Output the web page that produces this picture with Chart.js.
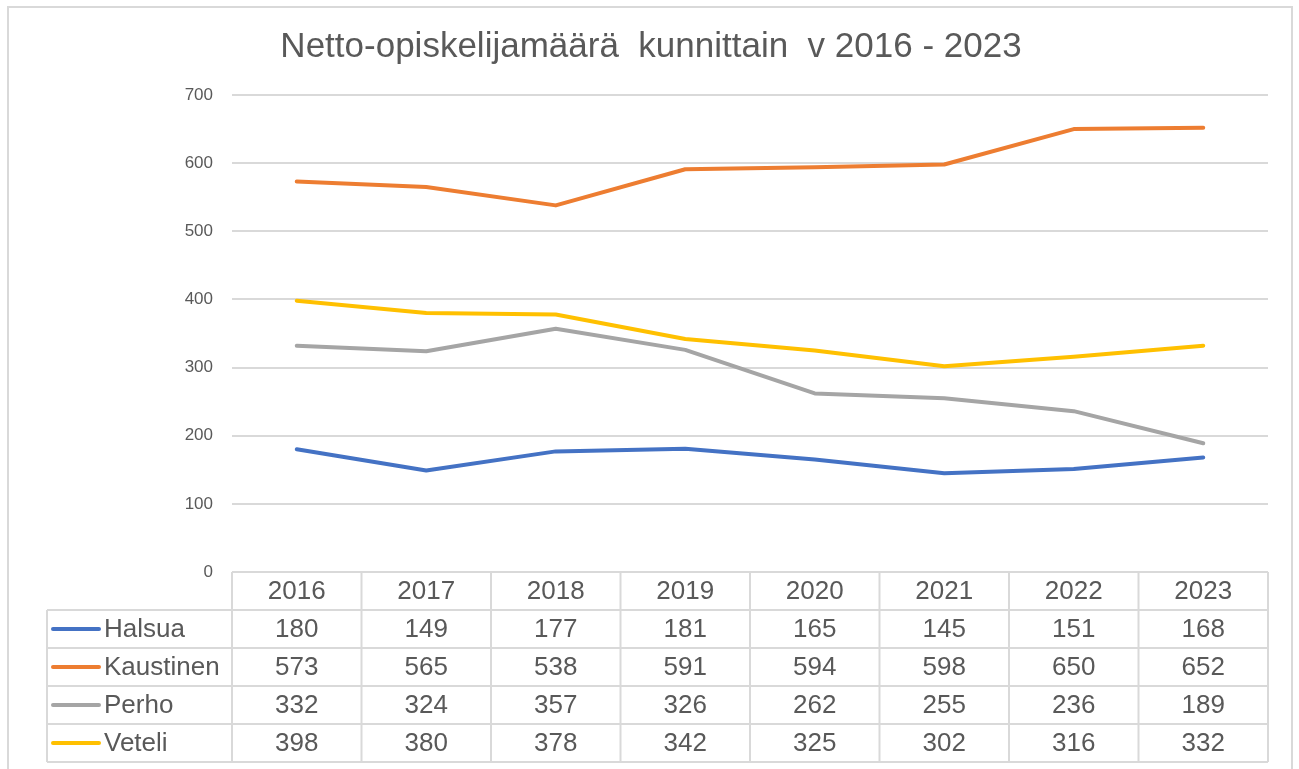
<!DOCTYPE html>
<html>
<head>
<meta charset="utf-8">
<script src="https://cdn.jsdelivr.net/npm/chart.js@4/dist/chart.umd.min.js"></script>
<style>
  html, body { margin:0; padding:0; background:#fff; }
  #wrap { position:absolute; left:0; top:0; width:1299px; height:769px; overflow:hidden; }
  #frame { position:absolute; left:7px; top:6px; width:1286px; height:800px; border:2px solid #d9d9d9; box-sizing:border-box; }
  canvas { position:absolute; left:0; top:0; }
</style>
</head>
<body>
<div id="wrap">
  <div id="frame"></div>
  <canvas id="chart" width="1299" height="769"></canvas>
</div>
<script>
// data
const years = ['2016','2017','2018','2019','2020','2021','2022','2023'];
const halsua    = [180, 149, 177, 181, 165, 145, 151, 168];
const kaustinen = [573, 565, 538, 591, 594, 598, 650, 652];
const perho     = [332, 324, 357, 326, 262, 255, 236, 189];
const veteli    = [398, 380, 378, 342, 325, 302, 316, 332];
const seriesNames = ['Halsua', 'Kaustinen', 'Perho', 'Veteli'];
const colors = ['#4472C4', '#ED7D31', '#A5A5A5', '#FFC000'];

const FONT = 'Arial, "Liberation Sans", sans-serif';
const TEXT = '#595959';
const GRID = '#d9d9d9';

// data table under the plot, drawn from the x scale
const dataTable = {
  id: 'dataTable',
  afterDraw(chart) {
    const ctx = chart.ctx;
    const x = chart.scales.x;
    const area = chart.chartArea;
    const colW = (area.right - area.left) / years.length;
    const rowH = 38;
    const top = area.bottom;
    const legendLeft = 47;
    ctx.save();
    ctx.strokeStyle = GRID;
    ctx.lineWidth = 2;
    ctx.beginPath();
    // header box
    ctx.moveTo(area.left, top); ctx.lineTo(area.right, top);
    const nRows = seriesNames.length;
    for (let r = 1; r <= nRows + 1; r++) {
      const y = top + r * rowH;
      ctx.moveTo(legendLeft, y); ctx.lineTo(area.right, y);
    }
    ctx.moveTo(legendLeft, top + rowH); ctx.lineTo(legendLeft, top + (nRows + 1) * rowH);
    for (let c = 0; c <= years.length; c++) {
      const xx = area.left + c * colW;
      ctx.moveTo(xx, top); ctx.lineTo(xx, top + (nRows + 1) * rowH);
    }
    ctx.stroke();

    ctx.fillStyle = TEXT;
    ctx.font = '26px ' + FONT;
    ctx.textAlign = 'center';
    ctx.textBaseline = 'middle';
    years.forEach((yr, i) => {
      ctx.fillText(yr, x.getPixelForValue(i), top + rowH / 2 + 1);
    });
    chart.data.datasets.forEach((ds, r) => {
      const cy = top + (r + 1) * rowH + rowH / 2 + 1;
      ds.data.forEach((v, i) => {
        ctx.fillText(String(v), x.getPixelForValue(i), cy);
      });
      // legend key
      ctx.save();
      ctx.strokeStyle = ds.borderColor;
      ctx.lineWidth = 4;
      ctx.lineCap = 'round';
      ctx.beginPath();
      ctx.moveTo(53, cy - 1); ctx.lineTo(99, cy - 1);
      ctx.stroke();
      ctx.restore();
      ctx.textAlign = 'left';
      ctx.fillText(ds.label, 104, cy);
      ctx.textAlign = 'center';
    });

    // title
    ctx.font = '35px ' + FONT;
    ctx.fillStyle = TEXT;
    ctx.textAlign = 'center';
    ctx.fillText('Netto-opiskelijamäärä  kunnittain  v 2016 - 2023', 651, 47);
    ctx.restore();
  }
};

const seriesData = [halsua, kaustinen, perho, veteli];

new Chart(document.getElementById('chart'), {
  type: 'line',
  data: {
    labels: years,
    datasets: seriesNames.map((name, i) => ({
      label: name,
      data: seriesData[i],
      borderColor: colors[i],
      backgroundColor: colors[i],
      borderWidth: 4,
      pointRadius: 0,
      tension: 0,
      borderCapStyle: 'round',
      borderJoinStyle: 'round'
    }))
  },
  options: {
    responsive: false,
    animation: false,
    layout: { padding: { left: 172, right: 31, top: 95, bottom: 197 } },
    plugins: { legend: { display: false }, title: { display: false }, tooltip: { enabled: false } },
    scales: {
      x: { display: false, offset: true },
      y: {
        min: 0, max: 700,
        ticks: { stepSize: 100, color: TEXT, font: { family: FONT, size: 17 }, padding: 19 },
        grid: { color: GRID, lineWidth: 2, drawTicks: false },
        border: { display: false },
        afterFit(scale) { scale.width = 60; }
      }
    }
  },
  plugins: [dataTable]
});
</script>
</body>
</html>
